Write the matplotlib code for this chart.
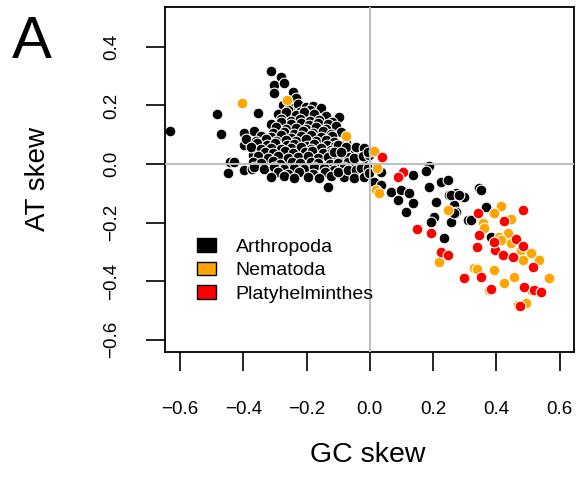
import matplotlib
matplotlib.use("Agg")
import matplotlib.pyplot as plt
from matplotlib.patches import Patch

plt.rcParams['font.family'] = ['Liberation Sans', 'DejaVu Sans']

# ---- data ----
arthropoda_x = [
    -0.632, -0.483, -0.470, -0.354, -0.398, -0.442, -0.448, -0.398, -0.373, -0.338,
    -0.398, -0.376, -0.350, -0.370, -0.354, -0.322, -0.344, -0.429,
    -0.313, -0.281, -0.303, -0.272, -0.303, -0.243, -0.234,
    -0.275, -0.243, -0.227, -0.202, -0.180, -0.155,
    -0.26, -0.22, -0.19,
    -0.290, -0.265, -0.234, -0.208, -0.177, -0.139, -0.098,
    -0.28, -0.25, -0.22, -0.19, -0.16, -0.12,
    -0.313, -0.281, -0.249, -0.218, -0.193, -0.164, -0.133, -0.107,
    -0.297, -0.265, -0.234, -0.202, -0.171, -0.139,
    -0.366, -0.306, -0.272, -0.240, -0.212, -0.180, -0.148, -0.123, -0.092,
    -0.345, -0.313, -0.281, -0.249, -0.218, -0.186, -0.155, -0.120,
    -0.392, -0.360, -0.328, -0.297, -0.265, -0.234, -0.202, -0.171, -0.139, -0.114,
    -0.357, -0.325, -0.300, -0.262, -0.238, -0.199, -0.175, -0.136, -0.110, -0.075,
    -0.376, -0.344, -0.313, -0.281, -0.249, -0.218, -0.186, -0.155, -0.123, -0.092, -0.044,
    -0.33, -0.305, -0.268, -0.244, -0.206, -0.183, -0.147, -0.118, -0.09, -0.06,
    -0.354, -0.322, -0.290, -0.259, -0.227, -0.196, -0.164, -0.133, -0.101, -0.069, -0.038, -0.019,
    -0.37, -0.343, -0.306, -0.284, -0.247, -0.222, -0.186, -0.163, -0.127, -0.10, -0.07,
    -0.366, -0.335, -0.303, -0.272, -0.240, -0.208, -0.177, -0.145, -0.114, -0.082, -0.051, -0.022,
    -0.29, -0.257, -0.224, -0.18, -0.143, -0.10, -0.062,
    -0.313, -0.272, -0.240, -0.196, -0.161, -0.123, -0.082, -0.044, -0.133,
    -0.101, -0.076, -0.044, -0.019, -0.114, -0.092, -0.051, -0.022, -0.003, -0.006,
    -0.101, -0.069, -0.044, -0.028, -0.006, -0.051, -0.019, 0.009, 0.035,
    -0.003, 0.013, 0.035,
    0.136, 0.186, 0.177, 0.066, 0.098, 0.123, 0.088, 0.136, 0.114,
    0.186, 0.224, 0.246, 0.208, 0.249, 0.272, 0.297, 0.265, 0.272, 0.202, 0.193,
    0.256, 0.234, 0.309, 0.344, 0.366, 0.382, 0.256, 0.281, 0.265, 0.319, 0.350,
]
arthropoda_y = [
    0.113, 0.171, 0.102, 0.174, 0.106, 0.007, -0.031, -0.020, -0.017, -0.014,
    0.065, 0.072, 0.055, 0.031, 0.089, 0.082, 0.024, 0.007,
    0.317, 0.297, 0.270, 0.276, 0.242, 0.246, 0.225,
    0.201, 0.192, 0.205, 0.195, 0.199, 0.190,
    0.183, 0.178, 0.186,
    0.171, 0.176, 0.168, 0.179, 0.170, 0.164, 0.160,
    0.152, 0.146, 0.155, 0.148, 0.151, 0.143,
    0.137, 0.142, 0.135, 0.141, 0.133, 0.139, 0.136, 0.131,
    0.127, 0.121, 0.124, 0.119, 0.126, 0.120,
    0.112, 0.106, 0.110, 0.104, 0.113, 0.107, 0.111, 0.103, 0.108,
    0.097, 0.092, 0.098, 0.090, 0.094, 0.099, 0.091, 0.095,
    0.084, 0.078, 0.085, 0.080, 0.083, 0.077, 0.086, 0.079, 0.082, 0.076,
    0.070, 0.065, 0.071, 0.064, 0.068, 0.062, 0.069, 0.066, 0.063, 0.070,
    0.057, 0.052, 0.056, 0.050, 0.054, 0.058, 0.051, 0.055, 0.049, 0.056, 0.053,
    0.042, 0.037, 0.043, 0.036, 0.040, 0.044, 0.038, 0.041, 0.035, 0.039,
    0.026, 0.021, 0.027, 0.020, 0.024, 0.028, 0.022, 0.025, 0.019, 0.023, 0.027, 0.021,
    0.008, 0.003, 0.009, 0.001, 0.006, 0.002, 0.007, 0.004, 0.000, 0.005, 0.008,
    -0.011, -0.016, -0.012, -0.018, -0.013, -0.017, -0.010, -0.015, -0.019, -0.012, -0.016, -0.013,
    -0.028, -0.033, -0.029, -0.034, -0.027, -0.032, -0.030,
    -0.046, -0.041, -0.048, -0.043, -0.047, -0.040, -0.045, -0.042, -0.078,
    0.065, 0.058, 0.058, 0.055, 0.041, 0.041, 0.020, 0.027, 0.031, 0.041,
    -0.027, -0.020, -0.020, -0.014, -0.014, -0.048, -0.044, -0.061, -0.027,
    -0.031, -0.061, -0.072,
    -0.038, -0.007, -0.024, -0.096, -0.089, -0.099, -0.123, -0.133, -0.164,
    -0.078, -0.061, -0.055, -0.130, -0.106, -0.099, -0.113, -0.140, -0.164, -0.181, -0.198,
    -0.198, -0.253, -0.191, -0.082, -0.147, -0.249, -0.106, -0.106, -0.167, -0.191, -0.089,
]

nematoda_x = [
    -0.404, -0.262, -0.076, 0.013, 0.022, 0.019, 0.028, 0.246, 0.218, 0.414,
    0.392, 0.357, 0.362, 0.445, 0.436, 0.407, 0.414, 0.445, 0.477, 0.508,
    0.483, 0.534, 0.328, 0.340, 0.392, 0.423, 0.455, 0.565, 0.376, 0.467,
    0.493, 0.508,
]
nematoda_y = [
    0.208, 0.218, 0.096, 0.044, -0.014, -0.089, -0.099, -0.157, -0.334, -0.143,
    -0.167, -0.201, -0.218, -0.188, -0.235, -0.249, -0.259, -0.270, -0.294, -0.304,
    -0.328, -0.328, -0.355, -0.357, -0.362, -0.406, -0.386, -0.389, -0.430, -0.481,
    -0.474, -0.430,
]

platy_x = [
    0.038, 0.104, 0.088, 0.148, 0.193, 0.224, 0.246, 0.341, 0.483, 0.423,
    0.344, 0.338, 0.395, 0.461, 0.483, 0.420, 0.452, 0.515, 0.297, 0.350,
    0.382, 0.486, 0.518, 0.540, 0.474, 0.392,
]
platy_y = [
    0.024, -0.027, -0.044, -0.222, -0.235, -0.300, -0.311, -0.167, -0.157, -0.195,
    -0.242, -0.283, -0.294, -0.256, -0.280, -0.311, -0.317, -0.352, -0.389, -0.386,
    -0.427, -0.420, -0.430, -0.437, -0.485, -0.266,
]

groups = ["Arthropoda", "Nematoda", "Platyhelminthes"]
colors = ["#000000", "#FFA500", "#FF0000"]
xticks = [-0.6, -0.4, -0.2, 0.0, 0.2, 0.4, 0.6]
yticks = [-0.6, -0.4, -0.2, 0.0, 0.2, 0.4]

# ---- figure ----
fig = plt.figure(figsize=(5.8, 4.97), dpi=100)
ax = fig.add_axes([0.2845, 0.2918, 0.7052, 0.6941])

series = [(arthropoda_x, arthropoda_y), (nematoda_x, nematoda_y), (platy_x, platy_y)]
for (xs, ys), c in zip(series, colors):
    ax.scatter(xs, ys, s=60, c=c, edgecolors="white", linewidths=0.8, zorder=2)

ax.axvline(0, color="#bebebe", lw=1.4, zorder=3)
ax.axhline(0, color="#bebebe", lw=1.4, zorder=3)

ax.set_xlim(-0.647, 0.645)
ax.set_ylim(-0.642, 0.536)
ax.set_xticks(xticks)
ax.set_yticks(yticks)
ax.set_xticklabels([f"{v:.1f}".replace("-", "\u2212") for v in xticks])
ax.set_yticklabels([f"{v:.1f}".replace("-", "\u2212") for v in yticks],
                   rotation=90, va="center")
ax.tick_params(axis="x", direction="out", length=13.5, width=1.2,
               labelsize=13.5, pad=22, colors="black")
ax.tick_params(axis="y", direction="out", length=13.5, width=1.2,
               labelsize=13.5, pad=19, colors="black")
for sp in ax.spines.values():
    sp.set_linewidth(1.3)
    sp.set_color("black")

fig.text(368 / 580, 1 - 455 / 497, "GC skew", fontsize=20.5, ha="center", va="center")
fig.text(38 / 580, 1 - 179 / 497, "AT skew", fontsize=20, ha="center", va="center",
         rotation=90)
fig.text(32 / 580, 1 - 43 / 497, "A", fontsize=43, ha="center", va="center")

handles = [Patch(facecolor=c, edgecolor="black", linewidth=1.0) for c in colors]
ax.legend(handles, groups, loc="upper left", bbox_to_anchor=(0.078, 0.33),
          frameon=False, fontsize=14, handlelength=1.0, handleheight=0.7,
          handletextpad=1.0, labelspacing=0.3, borderpad=0, borderaxespad=0)

fig.savefig("out.png", dpi=100)
